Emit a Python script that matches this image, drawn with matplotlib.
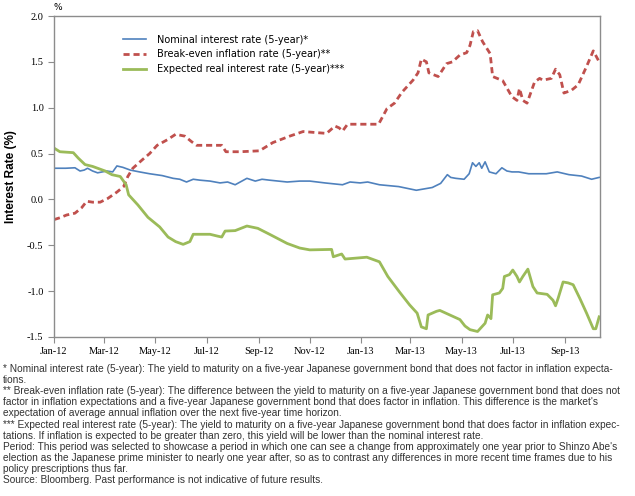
import pandas as pd
import matplotlib
matplotlib.use('Agg')
import matplotlib.pyplot as plt
import matplotlib.dates as mdates

# Nominal interest rate (5-year)
nom_dates = ['2012-01-01', '2012-01-15', '2012-01-26', '2012-02-01', '2012-02-06', '2012-02-10',
             '2012-02-16', '2012-02-22', '2012-03-04', '2012-03-11', '2012-03-16', '2012-03-23',
             '2012-04-01', '2012-04-12', '2012-04-24', '2012-05-09', '2012-05-22', '2012-05-30',
             '2012-06-07', '2012-06-15', '2012-06-23', '2012-07-05', '2012-07-17', '2012-07-26',
             '2012-08-04', '2012-08-10', '2012-08-18', '2012-08-28', '2012-09-05', '2012-09-14',
             '2012-10-05', '2012-10-20', '2012-11-01', '2012-11-19', '2012-12-10', '2012-12-19',
             '2012-12-31', '2013-01-09', '2013-01-23', '2013-02-15', '2013-03-08', '2013-03-27',
             '2013-04-06', '2013-04-14', '2013-04-18', '2013-04-24', '2013-05-04', '2013-05-10',
             '2013-05-14', '2013-05-18', '2013-05-22', '2013-05-25', '2013-05-29', '2013-06-03',
             '2013-06-11', '2013-06-18', '2013-06-24', '2013-06-30', '2013-07-08', '2013-07-20',
             '2013-08-10', '2013-08-23', '2013-09-06', '2013-09-21', '2013-10-03', '2013-10-12']
nominal = [0.34, 0.34, 0.345, 0.31, 0.32, 0.34,
           0.31, 0.29, 0.31, 0.30, 0.365, 0.35,
           0.32, 0.30, 0.28, 0.26, 0.23, 0.22,
           0.19, 0.22, 0.21, 0.20, 0.18, 0.19,
           0.16, 0.19, 0.23, 0.20, 0.22, 0.21,
           0.19, 0.20, 0.20, 0.18, 0.16, 0.19,
           0.18, 0.19, 0.16, 0.14, 0.10, 0.13,
           0.175, 0.27, 0.24, 0.23, 0.22, 0.28,
           0.40, 0.36, 0.40, 0.34, 0.41, 0.30,
           0.28, 0.345, 0.31, 0.30, 0.30, 0.28,
           0.28, 0.30, 0.27, 0.255, 0.22, 0.24]

# Break-even inflation rate (5-year)
be_dates = ['2012-01-01', '2012-01-08', '2012-01-16', '2012-01-26', '2012-02-03', '2012-02-09',
            '2012-02-16', '2012-02-25', '2012-03-05', '2012-03-16', '2012-03-24', '2012-03-29',
            '2012-04-04', '2012-04-15', '2012-04-24', '2012-05-03', '2012-05-15', '2012-05-25',
            '2012-06-05', '2012-06-13', '2012-06-19', '2012-07-05', '2012-07-19', '2012-07-24',
            '2012-08-10', '2012-09-02', '2012-09-18', '2012-10-08', '2012-10-24', '2012-11-21',
            '2012-12-01', '2012-12-06', '2012-12-10', '2012-12-16', '2012-12-31', '2013-01-22',
            '2013-02-01', '2013-02-10', '2013-02-19', '2013-03-04', '2013-03-10', '2013-03-14',
            '2013-03-20', '2013-03-23', '2013-04-03', '2013-04-13', '2013-04-20', '2013-04-29',
            '2013-05-07', '2013-05-11', '2013-05-15', '2013-05-20', '2013-05-26', '2013-06-04',
            '2013-06-07', '2013-06-19', '2013-06-30', '2013-07-06', '2013-07-09', '2013-07-13',
            '2013-07-18', '2013-07-27', '2013-08-02', '2013-08-06', '2013-08-16', '2013-08-21',
            '2013-08-26', '2013-08-31', '2013-09-09', '2013-09-17', '2013-09-27', '2013-10-05',
            '2013-10-12']
breakeven = [-0.22, -0.20, -0.17, -0.15, -0.09, -0.02,
             -0.03, -0.03, 0.01, 0.08, 0.14, 0.25,
             0.34, 0.43, 0.50, 0.59, 0.65, 0.71,
             0.69, 0.63, 0.59, 0.59, 0.59, 0.52,
             0.52, 0.53, 0.62, 0.69, 0.74, 0.72,
             0.80, 0.78, 0.745, 0.82, 0.82, 0.82,
             0.99, 1.05, 1.17, 1.30, 1.38, 1.53,
             1.50, 1.38, 1.34, 1.48, 1.50, 1.575,
             1.60, 1.68, 1.83, 1.84, 1.72, 1.59,
             1.34, 1.295, 1.12, 1.08, 1.21, 1.08,
             1.05, 1.28, 1.32, 1.30, 1.32, 1.42,
             1.36, 1.16, 1.19, 1.25, 1.45, 1.62,
             1.50]

# Expected real interest rate (5-year)
real_dates = ['2012-01-01', '2012-01-08', '2012-01-24', '2012-01-30', '2012-02-07', '2012-02-16',
              '2012-03-02', '2012-03-10', '2012-03-20', '2012-03-27', '2012-03-30', '2012-04-10',
              '2012-04-22', '2012-05-06', '2012-05-16', '2012-05-25', '2012-06-03', '2012-06-11',
              '2012-06-15', '2012-07-05', '2012-07-14', '2012-07-19', '2012-07-23', '2012-08-04',
              '2012-08-18', '2012-08-31', '2012-09-14', '2012-10-05', '2012-10-20', '2012-11-01',
              '2012-11-27', '2012-11-29', '2012-12-09', '2012-12-13', '2013-01-08', '2013-01-23',
              '2013-02-02', '2013-02-16', '2013-02-28', '2013-03-09', '2013-03-14', '2013-03-20',
              '2013-03-22', '2013-04-01', '2013-04-05', '2013-04-17', '2013-04-29', '2013-05-05',
              '2013-05-11', '2013-05-20', '2013-05-29', '2013-06-01', '2013-06-05', '2013-06-07',
              '2013-06-15', '2013-06-19', '2013-06-21', '2013-06-27', '2013-07-01', '2013-07-06',
              '2013-07-09', '2013-07-13', '2013-07-19', '2013-07-25', '2013-07-30', '2013-08-11',
              '2013-08-18', '2013-08-21', '2013-08-24', '2013-08-30', '2013-09-05', '2013-09-11',
              '2013-09-19', '2013-09-27', '2013-10-05', '2013-10-08', '2013-10-12']
real = [0.56, 0.52, 0.51, 0.45, 0.38, 0.36,
        0.31, 0.27, 0.25, 0.16, 0.05, -0.06,
        -0.195, -0.30, -0.41, -0.46, -0.49, -0.46,
        -0.38, -0.38, -0.40, -0.41, -0.345, -0.34,
        -0.29, -0.315, -0.38, -0.48, -0.53, -0.55,
        -0.545, -0.625, -0.595, -0.65, -0.63, -0.68,
        -0.84, -1.01, -1.15, -1.24, -1.39, -1.41,
        -1.26, -1.22, -1.21, -1.26, -1.31, -1.38,
        -1.42, -1.44, -1.35, -1.26, -1.30, -1.04,
        -1.02, -0.97, -0.84, -0.82, -0.77, -0.84,
        -0.90, -0.84, -0.76, -0.95, -1.02, -1.035,
        -1.10, -1.16, -1.08, -0.90, -0.91, -0.93,
        -1.08, -1.24, -1.41, -1.41, -1.28]

footnotes = [
    "* Nominal interest rate (5-year): The yield to maturity on a five-year Japanese government bond that does not factor in inflation expecta-",
    "tions.",
    "** Break-even inflation rate (5-year): The difference between the yield to maturity on a five-year Japanese government bond that does not",
    "factor in inflation expectations and a five-year Japanese government bond that does factor in inflation. This difference is the market's",
    "expectation of average annual inflation over the next five-year time horizon.",
    "*** Expected real interest rate (5-year): The yield to maturity on a five-year Japanese government bond that does factor in inflation expec-",
    "tations. If inflation is expected to be greater than zero, this yield will be lower than the nominal interest rate.",
    "Period: This period was selected to showcase a period in which one can see a change from approximately one year prior to Shinzo Abe's",
    "election as the Japanese prime minister to nearly one year after, so as to contrast any differences in more recent time frames due to his",
    "policy prescriptions thus far.",
    "Source: Bloomberg. Past performance is not indicative of future results.",
]

fig = plt.figure(figsize=(6.35, 4.96), dpi=100)
ax = fig.add_axes([54 / 635, 1 - 337 / 496, 546 / 635, 321 / 496])

ax.plot(pd.to_datetime(nom_dates), nominal, color='#4F81BD', lw=1.2,
        label='Nominal interest rate (5-year)*')
ax.plot(pd.to_datetime(be_dates), breakeven, color='#C0504D', lw=2.0,
        dashes=(2.2, 1.4), label='Break-even inflation rate (5-year)**')
ax.plot(pd.to_datetime(real_dates), real, color='#9BBB59', lw=2.0,
        label='Expected real interest rate (5-year)***')

ax.set_xlim(pd.Timestamp('2012-01-01'), pd.Timestamp('2013-10-13'))
ax.set_ylim(-1.5, 2.0)
ax.set_yticks([-1.5, -1.0, -0.5, 0.0, 0.5, 1.0, 1.5, 2.0])
ax.yaxis.set_major_formatter(matplotlib.ticker.FormatStrFormatter('%.1f'))
ax.set_xticks(pd.date_range('2012-01-01', '2013-09-01', freq='2MS'))
ax.xaxis.set_major_formatter(mdates.DateFormatter('%b-%y'))

for s in ax.spines.values():
    s.set_color('#8c8c8c')
    s.set_linewidth(1.0)
ax.tick_params(colors='#8c8c8c', length=4, width=0.8, direction='out')
for lab in ax.get_xticklabels() + ax.get_yticklabels():
    lab.set_family('Liberation Serif')
    lab.set_fontsize(7.5)
    lab.set_color('black')

ax.set_ylabel('Interest Rate (%)', family='Liberation Sans', fontweight='bold', fontsize=8.5)
ax.yaxis.set_label_coords(-37 / 546, 0.5)
ax.text(0.0, 1.012, '%', transform=ax.transAxes, fontsize=6.5, ha='left', va='bottom')

ax.legend(loc='upper left', bbox_to_anchor=(0.126, 0.942), frameon=False,
          prop={'family': 'DejaVu Sans', 'size': 7}, handlelength=2.4,
          handletextpad=1.1, labelspacing=0.5, borderaxespad=0, borderpad=0)

y0 = 369
for i, line in enumerate(footnotes):
    fig.text(3 / 635, 1 - (y0 + i * 11.1) / 496, line, family='Liberation Sans',
             fontsize=7.3, color='#333333', ha='left', va='center')

fig.savefig('out.png', dpi=100)
